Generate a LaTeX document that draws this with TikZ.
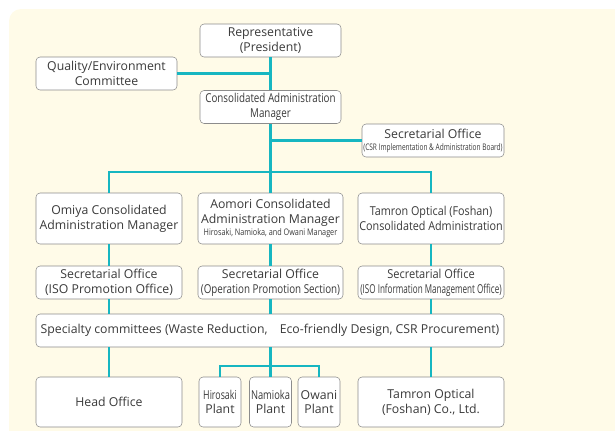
\documentclass[tikz,border=0pt]{standalone}
\usepackage{fontspec}
\usepackage{graphicx}
\setmainfont{Open Sans}
\usetikzlibrary{positioning}

\definecolor{cream}{HTML}{FFFBE8}
\definecolor{linecol}{HTML}{17B6C1}
\definecolor{framecol}{HTML}{8C8C8C}
\definecolor{ink}{HTML}{3A3A3A}

% squeeze a line of text sideways
\newcommand\sq[2]{\scalebox{#1}[1]{#2}}
\newcommand\smalltext[1]{{\fontsize{6.8}{8}\selectfont #1}}

\begin{document}
\begin{tikzpicture}[x=0.75pt, y=-0.75pt,
    box/.style={draw=framecol, fill=white, rounded corners=3pt, text=ink,
      align=center, inner sep=0pt, font=\fontsize{9.2}{11}\selectfont},
    boxsize/.style 2 args={minimum width=#1*0.75pt, minimum height=#2*0.75pt},
    link/.style={draw=linecol, line width=1.6pt}]

  \clip (0, 0) rectangle (615, 430) ;
  \fill[cream, rounded corners=9pt] (9, 9) rectangle (640, 460) ;

  % top of the chart
  \node[box, boxsize={141}{33}] (rep) at (270.5, 40.5) {Representative\\(President)} ;
  \node[box, boxsize={141}{33}] (qe) at (106.5, 73.5) {Quality/Environment\\Committee} ;
  \node[box, boxsize={141}{33}] (cam) at (270.5, 107) {\sq{0.8}{Consolidated Administration}\\\sq{0.8}{Manager}} ;
  \node[box, boxsize={142}{33}] (csr) at (433, 140.5) {Secretarial Office\\[-2pt]\smalltext{\sq{0.72}{(CSR Implementation \& Administration Board)}}} ;

  % sites
  \node[box, boxsize={146}{51}] (omiya) at (109, 218.5) {Omiya Consolidated\\Administration Manager} ;
  \node[box, boxsize={145}{51}] (aomori) at (270.5, 218.5) {Aomori Consolidated\\Administration Manager\\[-2pt]\smalltext{\sq{0.8}{Hirosaki, Namioka, and Owani Manager}}} ;
  \node[box, boxsize={146}{51}] (foshan) at (431, 218.5) {\sq{0.88}{Tamron Optical (Foshan)}\\\sq{0.88}{Consolidated Administration}} ;

  \node[box, boxsize={146}{33}] (omiyasec) at (109, 282.5) {Secretarial Office\\(ISO Promotion Office)} ;
  \node[box, boxsize={145}{33}] (aomorisec) at (270.5, 282.5) {Secretarial Office\\\sq{0.8}{(Operation Promotion Section)}} ;
  \node[box, boxsize={146}{33}] (foshansec) at (431, 282.5) {\sq{0.9}{Secretarial Office}\\\sq{0.66}{(ISO Information Management Office)}} ;

  \node[box, boxsize={468}{33}] (spec) at (270, 330.5) {Specialty committees (Waste Reduction,\quad Eco-friendly Design, CSR Procurement)} ;

  % bottom row
  \node[box, boxsize={146}{50}] (head) at (109, 402) {Head Office} ;
  \node[box, boxsize={42}{50}] (hirosaki) at (220, 402) {\sq{0.72}{Hirosaki}\\Plant} ;
  \node[box, boxsize={42}{50}] (namioka) at (270.5, 402) {\sq{0.76}{Namioka}\\Plant} ;
  \node[box, boxsize={42}{50}] (owani) at (319, 402) {Owani\\Plant} ;
  \node[box, boxsize={146}{50}] (foshanco) at (431, 402) {Tamron Optical\\(Foshan) Co., Ltd.} ;

  \coordinate (split) at (270.5, 172) ;
  \coordinate (plantsplit) at (270.5, 366) ;

  % connectors
  \draw[link] (rep) -- (cam) ;
  \draw[link] (qe) -- (qe -| rep) ;
  \draw[link] (cam) -- (split) ;
  \draw[link] (cam |- csr) -- (csr) ;
  \draw[link] (omiya) -- (omiya |- split) -- (foshan |- split) -- (foshan) ;
  \draw[link] (split) -- (aomori) ;
  \draw[link] (omiya) -- (omiyasec) ;
  \draw[link] (aomori) -- (aomorisec) ;
  \draw[link] (foshan) -- (foshansec) ;
  \draw[link] (omiyasec) -- (omiyasec |- spec.north) ;
  \draw[link] (aomorisec) -- (aomorisec |- spec.north) ;
  \draw[link] (foshansec) -- (foshansec |- spec.north) ;
  \draw[link] (head |- spec.south) -- (head) ;
  \draw[link] (foshanco |- spec.south) -- (foshanco) ;
  \draw[link] (spec.south -| plantsplit) -- (plantsplit) ;
  \draw[link] (hirosaki) -- (hirosaki |- plantsplit) -- (owani |- plantsplit) -- (owani) ;
  \draw[link] (plantsplit) -- (namioka) ;
\end{tikzpicture}
\end{document}
